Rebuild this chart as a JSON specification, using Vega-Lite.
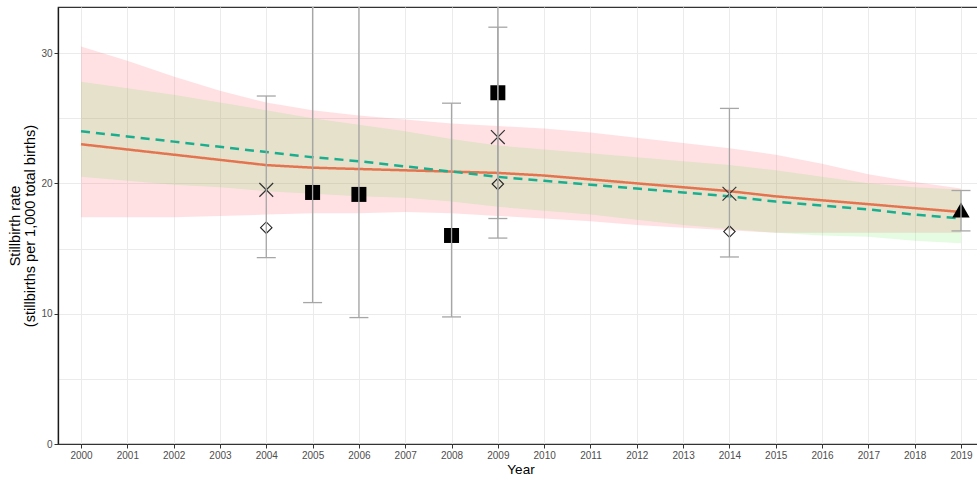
{
  "$schema": "https://vega.github.io/schema/vega-lite/v6.json",
  "width": 925,
  "height": 437,
  "autosize": "none",
  "padding": {"left": 58, "top": 7, "right": 0, "bottom": 39},
  "background": "white",
  "config": {
    "font": "Liberation Sans",
    "view": {"stroke": "#333333", "strokeWidth": 1.2},
    "axis": {
      "labelFont": "Liberation Sans",
      "labelFontSize": 10,
      "labelColor": "#4D4D4D",
      "titleFont": "Liberation Sans",
      "titleFontSize": 13,
      "titleFontWeight": "normal",
      "titleColor": "#000000",
      "gridColor": "#EBEBEB",
      "gridWidth": 1,
      "tickColor": "#333333",
      "tickSize": 4,
      "labelPadding": 2
    }
  },
  "datasets": {
    "bands": [
      {"year": 2000, "band": "pink", "lo": 17.4, "hi": 30.5},
      {"year": 2001, "band": "pink", "lo": 17.4, "hi": 29.4},
      {"year": 2002, "band": "pink", "lo": 17.4, "hi": 28.2},
      {"year": 2003, "band": "pink", "lo": 17.5, "hi": 27.1},
      {"year": 2004, "band": "pink", "lo": 17.6, "hi": 26.2},
      {"year": 2005, "band": "pink", "lo": 17.7, "hi": 25.6},
      {"year": 2006, "band": "pink", "lo": 17.7, "hi": 25.2},
      {"year": 2007, "band": "pink", "lo": 17.8, "hi": 24.9},
      {"year": 2008, "band": "pink", "lo": 17.7, "hi": 24.6},
      {"year": 2009, "band": "pink", "lo": 17.5, "hi": 24.4},
      {"year": 2010, "band": "pink", "lo": 17.3, "hi": 24.2},
      {"year": 2011, "band": "pink", "lo": 17.1, "hi": 23.9},
      {"year": 2012, "band": "pink", "lo": 16.8, "hi": 23.5},
      {"year": 2013, "band": "pink", "lo": 16.6, "hi": 23.1},
      {"year": 2014, "band": "pink", "lo": 16.4, "hi": 22.7},
      {"year": 2015, "band": "pink", "lo": 16.2, "hi": 22.2},
      {"year": 2016, "band": "pink", "lo": 16.2, "hi": 21.5},
      {"year": 2017, "band": "pink", "lo": 16.2, "hi": 20.7},
      {"year": 2018, "band": "pink", "lo": 16.2, "hi": 20.1},
      {"year": 2019, "band": "pink", "lo": 16.2, "hi": 19.6},
      {"year": 2000, "band": "green", "lo": 20.5, "hi": 27.8},
      {"year": 2001, "band": "green", "lo": 20.2, "hi": 27.3},
      {"year": 2002, "band": "green", "lo": 19.9, "hi": 26.8},
      {"year": 2003, "band": "green", "lo": 19.7, "hi": 26.2},
      {"year": 2004, "band": "green", "lo": 19.4, "hi": 25.6},
      {"year": 2005, "band": "green", "lo": 19.2, "hi": 25.0},
      {"year": 2006, "band": "green", "lo": 19.0, "hi": 24.5},
      {"year": 2007, "band": "green", "lo": 18.9, "hi": 24.0},
      {"year": 2008, "band": "green", "lo": 18.6, "hi": 23.4},
      {"year": 2009, "band": "green", "lo": 18.2, "hi": 22.9},
      {"year": 2010, "band": "green", "lo": 17.9, "hi": 22.6},
      {"year": 2011, "band": "green", "lo": 17.6, "hi": 22.3},
      {"year": 2012, "band": "green", "lo": 17.2, "hi": 22.0},
      {"year": 2013, "band": "green", "lo": 16.8, "hi": 21.7},
      {"year": 2014, "band": "green", "lo": 16.5, "hi": 21.4},
      {"year": 2015, "band": "green", "lo": 16.2, "hi": 21.0},
      {"year": 2016, "band": "green", "lo": 16.0, "hi": 20.5},
      {"year": 2017, "band": "green", "lo": 15.9, "hi": 20.0},
      {"year": 2018, "band": "green", "lo": 15.6, "hi": 19.7},
      {"year": 2019, "band": "green", "lo": 15.4, "hi": 19.5}
    ],
    "lines": [
      {"year": 2000, "model": "red", "value": 23.0},
      {"year": 2001, "model": "red", "value": 22.6},
      {"year": 2002, "model": "red", "value": 22.2},
      {"year": 2003, "model": "red", "value": 21.8},
      {"year": 2004, "model": "red", "value": 21.4},
      {"year": 2005, "model": "red", "value": 21.2},
      {"year": 2006, "model": "red", "value": 21.1},
      {"year": 2007, "model": "red", "value": 21.0},
      {"year": 2008, "model": "red", "value": 20.9},
      {"year": 2009, "model": "red", "value": 20.8},
      {"year": 2010, "model": "red", "value": 20.6},
      {"year": 2011, "model": "red", "value": 20.3},
      {"year": 2012, "model": "red", "value": 20.0},
      {"year": 2013, "model": "red", "value": 19.7},
      {"year": 2014, "model": "red", "value": 19.4},
      {"year": 2015, "model": "red", "value": 19.0},
      {"year": 2016, "model": "red", "value": 18.7},
      {"year": 2017, "model": "red", "value": 18.4},
      {"year": 2018, "model": "red", "value": 18.1},
      {"year": 2019, "model": "red", "value": 17.8},
      {"year": 2000, "model": "teal", "value": 24.0},
      {"year": 2001, "model": "teal", "value": 23.6},
      {"year": 2002, "model": "teal", "value": 23.2},
      {"year": 2003, "model": "teal", "value": 22.8},
      {"year": 2004, "model": "teal", "value": 22.4},
      {"year": 2005, "model": "teal", "value": 22.0},
      {"year": 2006, "model": "teal", "value": 21.7},
      {"year": 2007, "model": "teal", "value": 21.3},
      {"year": 2008, "model": "teal", "value": 20.9},
      {"year": 2009, "model": "teal", "value": 20.5},
      {"year": 2010, "model": "teal", "value": 20.2},
      {"year": 2011, "model": "teal", "value": 19.9},
      {"year": 2012, "model": "teal", "value": 19.6},
      {"year": 2013, "model": "teal", "value": 19.3},
      {"year": 2014, "model": "teal", "value": 19.0},
      {"year": 2015, "model": "teal", "value": 18.6},
      {"year": 2016, "model": "teal", "value": 18.3},
      {"year": 2017, "model": "teal", "value": 18.0},
      {"year": 2018, "model": "teal", "value": 17.6},
      {"year": 2019, "model": "teal", "value": 17.3}
    ],
    "points": [
      {"year": 2004, "kind": "cross", "value": 19.5},
      {"year": 2004, "kind": "diamond", "value": 16.6},
      {"year": 2005, "kind": "square", "value": 19.3},
      {"year": 2006, "kind": "square", "value": 19.15},
      {"year": 2008, "kind": "square", "value": 16.0},
      {"year": 2009, "kind": "square", "value": 26.95},
      {"year": 2009, "kind": "cross", "value": 23.55},
      {"year": 2009, "kind": "diamond", "value": 19.95},
      {"year": 2014, "kind": "cross", "value": 19.2},
      {"year": 2014, "kind": "diamond", "value": 16.3},
      {"year": 2019, "kind": "triangle", "value": 17.95}
    ],
    "bars": [
      {"year": 2004, "lo": 14.3, "hi": 26.7},
      {"year": 2005, "lo": 10.85, "hi": 38.0},
      {"year": 2006, "lo": 9.7, "hi": 38.0},
      {"year": 2008, "lo": 9.75, "hi": 26.15},
      {"year": 2009, "lo": 15.8, "hi": 38.0},
      {"year": 2009, "lo": 17.3, "hi": 31.98},
      {"year": 2014, "lo": 14.35, "hi": 25.75},
      {"year": 2019, "lo": 16.35, "hi": 19.45}
    ]
  },
  "layer": [
    {
      "data": {"name": "bands"},
      "transform": [{"filter": "datum.band == 'pink'"}],
      "mark": {"type": "area", "color": "#FF6B7A", "opacity": 0.2, "clip": true},
      "encoding": {
        "x": {
          "field": "year", "type": "quantitative",
          "scale": {"domain": [1999.503, 2019.475], "nice": false, "zero": false},
          "axis": {
            "title": "Year",
            "values": [2000, 2001, 2002, 2003, 2004, 2005, 2006, 2007, 2008, 2009, 2010, 2011, 2012, 2013, 2014, 2015, 2016, 2017, 2018, 2019],
            "format": "d",
            "domainColor": "#333333",
            "domainWidth": 1,
            "titleFontSize": 13.5,
            "titlePadding": 2
          }
        },
        "y": {
          "field": "lo", "type": "quantitative",
          "scale": {"domain": [0, 33.53], "nice": false},
          "axis": {
            "title": ["Stillbirth rate", "(stillbirths per 1,000 total births)"],
            "values": [0, 5, 10, 15, 20, 25, 30],
            "labelExpr": "datum.value % 10 == 0 ? datum.label : ''",
            "tickOpacity": {"condition": {"test": "datum.value % 10 == 0", "value": 1}, "value": 0},
            "domainColor": "#1A1A1A",
            "domainWidth": 1.3,
            "titleFontSize": 14.5,
            "titlePadding": 3,
            "titleLineHeight": 15
          }
        },
        "y2": {"field": "hi"}
      }
    },
    {
      "data": {"name": "bands"},
      "transform": [{"filter": "datum.band == 'green'"}],
      "mark": {"type": "area", "color": "#50E63C", "opacity": 0.15, "clip": true},
      "encoding": {
        "x": {"field": "year", "type": "quantitative"},
        "y": {"field": "lo", "type": "quantitative"},
        "y2": {"field": "hi"}
      }
    },
    {
      "data": {"name": "lines"},
      "mark": {"type": "line", "strokeWidth": 2.5, "clip": true},
      "encoding": {
        "x": {"field": "year", "type": "quantitative"},
        "y": {"field": "value", "type": "quantitative"},
        "color": {"field": "model", "type": "nominal", "scale": {"domain": ["red", "teal"], "range": ["#E4744F", "#1BAE8E"]}, "legend": null},
        "strokeDash": {"field": "model", "type": "nominal", "scale": {"domain": ["red", "teal"], "range": [[1, 0], [9, 6]]}, "legend": null}
      }
    },
    {
      "data": {"name": "points"},
      "transform": [{"filter": "datum.kind == 'square'"}],
      "mark": {"type": "point", "shape": "square", "filled": true, "color": "#000000", "opacity": 1, "size": 225, "clip": true},
      "encoding": {
        "x": {"field": "year", "type": "quantitative"},
        "y": {"field": "value", "type": "quantitative"}
      }
    },
    {
      "data": {"name": "points"},
      "transform": [{"filter": "datum.kind == 'triangle'"}],
      "mark": {"type": "point", "shape": "triangle-up", "filled": true, "color": "#000000", "opacity": 1, "size": 300, "clip": true},
      "encoding": {
        "x": {"field": "year", "type": "quantitative"},
        "y": {"field": "value", "type": "quantitative"}
      }
    },
    {
      "data": {"name": "points"},
      "transform": [{"filter": "datum.kind == 'cross'"}],
      "mark": {"type": "point", "shape": "M-1,-1L1,1M-1,1L1,-1", "filled": false, "stroke": "#333333", "strokeWidth": 1.2, "opacity": 1, "size": 190, "clip": true},
      "encoding": {
        "x": {"field": "year", "type": "quantitative"},
        "y": {"field": "value", "type": "quantitative"}
      }
    },
    {
      "data": {"name": "points"},
      "transform": [{"filter": "datum.kind == 'diamond'"}],
      "mark": {"type": "point", "shape": "diamond", "filled": false, "fill": "#FFFFFF", "fillOpacity": 0, "stroke": "#222222", "strokeWidth": 1.1, "opacity": 1, "size": 130, "clip": true},
      "encoding": {
        "x": {"field": "year", "type": "quantitative"},
        "y": {"field": "value", "type": "quantitative"}
      }
    },
    {
      "data": {"name": "bars"},
      "mark": {"type": "rule", "color": "#A6A6A6", "strokeWidth": 1.3, "clip": true},
      "encoding": {
        "x": {"field": "year", "type": "quantitative"},
        "y": {"field": "lo", "type": "quantitative"},
        "y2": {"field": "hi"}
      }
    },
    {
      "data": {"name": "bars"},
      "mark": {"type": "tick", "orient": "horizontal", "size": 19, "thickness": 1.3, "color": "#A6A6A6", "opacity": 1, "clip": true},
      "encoding": {
        "x": {"field": "year", "type": "quantitative"},
        "y": {"field": "lo", "type": "quantitative"}
      }
    },
    {
      "data": {"name": "bars"},
      "mark": {"type": "tick", "orient": "horizontal", "size": 19, "thickness": 1.3, "color": "#A6A6A6", "opacity": 1, "clip": true},
      "encoding": {
        "x": {"field": "year", "type": "quantitative"},
        "y": {"field": "hi", "type": "quantitative"}
      }
    }
  ]
}
